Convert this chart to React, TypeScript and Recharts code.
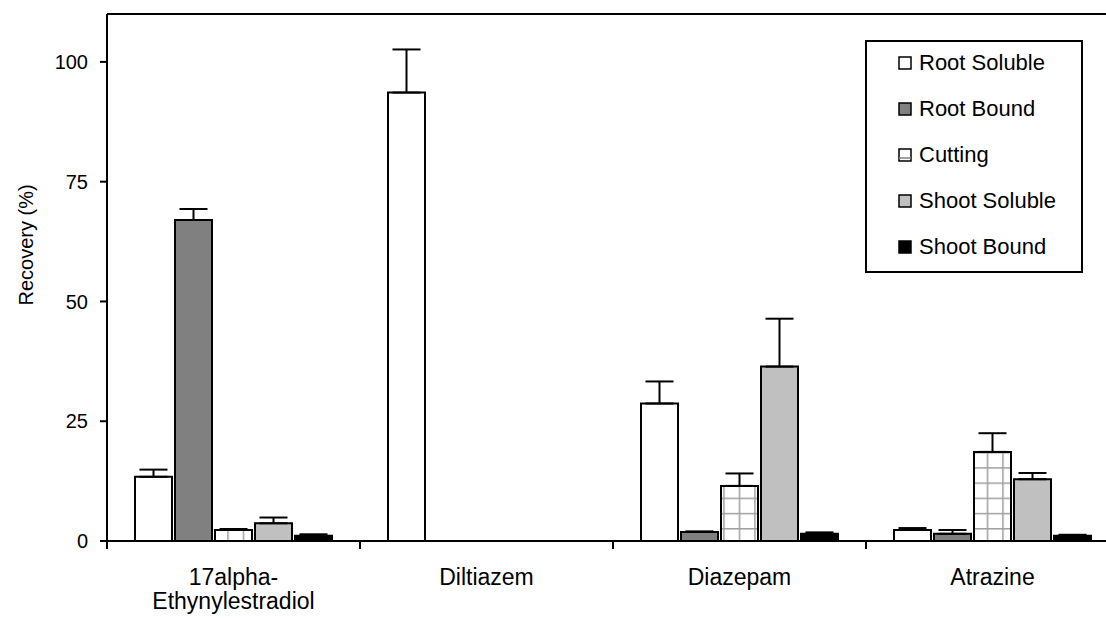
import React from "react";
import {
  BarChart,
  Bar,
  XAxis,
  YAxis,
  ErrorBar,
  ReferenceLine,
} from "recharts";

// values (%)
const compounds = ["17alpha-\nEthynylestradiol", "Diltiazem", "Diazepam", "Atrazine"];
const rootSoluble = [13.4, 93.6, 28.7, 2.3];
const rootSolubleErr = [1.5, 9.0, 4.6, 0.4];
const rootBound = [67.0, 0, 1.9, 1.5];
const rootBoundErr = [2.3, 0, 0.1, 0.8];
const cutting = [2.3, 0, 11.5, 18.6];
const cuttingErr = [0.2, 0, 2.6, 3.9];
const shootSoluble = [3.7, 0, 36.4, 12.9];
const shootSolubleErr = [1.2, 0, 10.0, 1.3];
const shootBound = [1.1, 0, 1.5, 1.1];
const shootBoundErr = [0.3, 0, 0.3, 0.2];
const yTicks = [0, 25, 50, 75, 100];

const series = [
  { key: "rootSoluble", name: "Root Soluble", fill: "#ffffff" },
  { key: "rootBound", name: "Root Bound", fill: "#808080" },
  { key: "cutting", name: "Cutting", fill: "url(#cuttingGrid)" },
  { key: "shootSoluble", name: "Shoot Soluble", fill: "#c0c0c0" },
  { key: "shootBound", name: "Shoot Bound", fill: "#000000" },
];

const data = compounds.map((c, i) => ({
  compound: c,
  rootSoluble: rootSoluble[i],
  rootSolubleErr: [0, rootSolubleErr[i]],
  rootBound: rootBound[i],
  rootBoundErr: [0, rootBoundErr[i]],
  cutting: cutting[i],
  cuttingErr: [0, cuttingErr[i]],
  shootSoluble: shootSoluble[i],
  shootSolubleErr: [0, shootSolubleErr[i]],
  shootBound: shootBound[i],
  shootBoundErr: [0, shootBoundErr[i]],
}));

const FONT = "'Liberation Sans', Arial, sans-serif";
const CHART_W = 1129;
const CHART_H = 618;
const Y_AXIS_W = 107;
const RIGHT = 10;
const BAND = (CHART_W - Y_AXIS_W - RIGHT) / compounds.length;

function CategoryTick(props: any) {
  const { x, y, payload } = props;
  const lines = String(payload.value).split("\n");
  return (
    <g>
      <line x1={x - BAND / 2} x2={x - BAND / 2} y1={y} y2={y + 8} stroke="#000" strokeWidth={2} />
      {lines.map((l, i) => (
        <text
          key={i}
          x={x}
          y={y + 44 + i * 24}
          textAnchor="middle"
          fontFamily={FONT}
          fontSize={23}
          fill="#000"
        >
          {l}
        </text>
      ))}
    </g>
  );
}

function LegendIcon({ k, fill }: { k: string; fill: string }) {
  return (
    <svg width={14} height={14} style={{ display: "block" }}>
      <rect x={1} y={1} width={12} height={12} fill={k === "cutting" ? "#fff" : fill} stroke="#000" strokeWidth={1.5} />
      {k === "cutting" && <line x1={1.5} x2={12.5} y1={10} y2={10} stroke="#a0a0a0" strokeWidth={2} />}
    </svg>
  );
}

export default function App() {
  return (
    <div
      style={{
        position: "fixed",
        left: 0,
        top: 0,
        width: 1106,
        height: 618,
        overflow: "hidden",
        background: "#fff",
      }}
    >
      <BarChart
        width={CHART_W}
        height={CHART_H}
        data={data}
        margin={{ top: 14, right: RIGHT, bottom: 0, left: 0 }}
        barCategoryGap={28}
        barGap={3}
      >
        <defs>
          <pattern id="cuttingGrid" patternUnits="userSpaceOnUse" x={10.2} y={11.2} width={15.5} height={15.2}>
            <rect x={0} y={0} width={15.5} height={15.2} fill="#fff" />
            <line x1={0} x2={15.5} y1={0} y2={0} stroke="#a0a0a0" strokeWidth={3} />
            <line x1={0} x2={0} y1={0} y2={15.2} stroke="#a0a0a0" strokeWidth={3} />
          </pattern>
        </defs>
        <XAxis
          dataKey="compound"
          height={CHART_H - 541}
          axisLine={{ stroke: "#000", strokeWidth: 2 }}
          tickLine={false}
          tickSize={0}
          tickMargin={0}
          interval={0}
          tick={<CategoryTick />}
        />
        <YAxis
          width={Y_AXIS_W}
          domain={[0, 110]}
          ticks={yTicks}
          axisLine={{ stroke: "#000", strokeWidth: 2 }}
          tickLine={{ stroke: "#000", strokeWidth: 2 }}
          tickSize={7}
          tickMargin={12}
          tick={{ fontFamily: FONT, fontSize: 20, fill: "#000" }}
          label={{
            content: () => (
              <text
                x={33}
                y={245}
                transform="rotate(-90 33 245)"
                textAnchor="middle"
                fontFamily={FONT}
                fontSize={20}
                fill="#000"
              >
                Recovery (%)
              </text>
            ),
          }}
        />
        <ReferenceLine y={110} stroke="#000" strokeWidth={2} />
        {series.map((s) => (
          <Bar
            key={s.key}
            dataKey={s.key}
            name={s.name}
            fill={s.fill}
            stroke="#000"
            strokeWidth={2}
            isAnimationActive={false}
          >
            <ErrorBar dataKey={`${s.key}Err`} direction="y" width={14} stroke="#000" strokeWidth={2} />
          </Bar>
        ))}
      </BarChart>
      <div
        style={{
          position: "absolute",
          left: 865,
          top: 40,
          width: 218,
          height: 233,
          boxSizing: "border-box",
          border: "2px solid #000",
          background: "#fff",
          fontFamily: FONT,
          fontSize: 22,
        }}
      >
        {series.map((s, i) => (
          <div
            key={s.key}
            style={{
              position: "absolute",
              left: 31,
              top: 8 + i * 46,
              height: 26,
              display: "flex",
              alignItems: "center",
              whiteSpace: "nowrap",
            }}
          >
            <LegendIcon k={s.key} fill={s.fill} />
            <span style={{ marginLeft: 7 }}>{s.name}</span>
          </div>
        ))}
      </div>
    </div>
  );
}
